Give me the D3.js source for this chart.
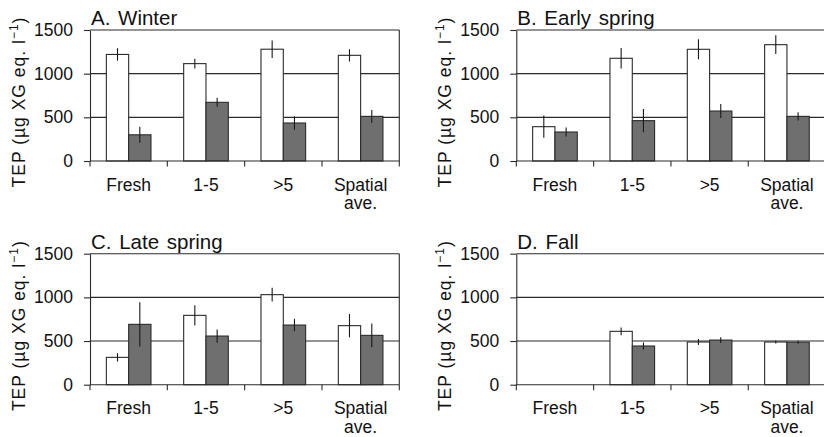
<!DOCTYPE html>
<html>
<head>
<meta charset="utf-8">
<script src="https://cdn.jsdelivr.net/npm/d3@7"></script>
<style>
  body { margin: 0; background: #fff; }
  svg { display: block; }
  text { font-family: "Liberation Sans", Arial, sans-serif; fill: #111; }
</style>
</head>
<body>
<svg id="chart" width="824" height="437"></svg>
<script>
// Sampling groups along the x axis
const categories = ["Fresh", "1-5", ">5", "Spatial ave."];
const panelTitles = ["A. Winter", "B. Early spring", "C. Late spring", "D. Fall"];
const yTicks = [0, 500, 1000, 1500];

// TEP means (µg XG eq. l-1), open bars
const openWinter = [1220, 1115, 1280, 1210];
const openEarlySpring = [393, 1176, 1279, 1332];
const openLateSpring = [313, 794, 1031, 676];
const openFall = [null, 611, 489, 489];

// TEP means, filled bars
const filledWinter = [300, 672, 435, 511];
const filledEarlySpring = [332, 462, 572, 511];
const filledLateSpring = [691, 557, 683, 565];
const filledFall = [null, 443, 511, 487];

// Error bar half-lengths
const openWinterErr = [72, 57, 100, 71];
const openEarlySpringErr = [128, 118, 115, 107];
const openLateSpringErr = [48, 115, 78, 134];
const openFallErr = [null, 44, 34, 17];
const filledWinterErr = [92, 52, 76, 73];
const filledEarlySpringErr = [52, 134, 80, 46];
const filledLateSpringErr = [254, 76, 71, 135];
const filledFallErr = [null, 40, 33, 17];

const panels = [
  { title: panelTitles[0], open: openWinter, filled: filledWinter, openErr: openWinterErr, filledErr: filledWinterErr, left: 90, top: 30 },
  { title: panelTitles[1], open: openEarlySpring, filled: filledEarlySpring, openErr: openEarlySpringErr, filledErr: filledEarlySpringErr, left: 516.3, top: 30 },
  { title: panelTitles[2], open: openLateSpring, filled: filledLateSpring, openErr: openLateSpringErr, filledErr: filledLateSpringErr, left: 90, top: 253.7 },
  { title: panelTitles[3], open: openFall, filled: filledFall, openErr: openFallErr, filledErr: filledFallErr, left: 516.3, top: 253.7 }
];

const W = 309.3, H = 131;
const lineColor = "#2b2b2b";
const svg = d3.select("#chart");

const x0 = d3.scaleBand().domain(categories).range([0, W]).padding(0);
const x1 = d3.scaleBand().domain(["open", "filled"]).range([0, x0.bandwidth()])
  .paddingInner(0).paddingOuter(0.733);
const y = d3.scaleLinear().domain([0, 1500]).range([H, 0]);

panels.forEach(p => {
  const g = svg.append("g").attr("transform", `translate(${p.left},${p.top})`);

  // horizontal gridlines (including the top frame line)
  g.selectAll("line.grid").data(yTicks.filter(t => t > 0)).join("line")
    .attr("class", "grid")
    .attr("x1", 0).attr("x2", W)
    .attr("y1", d => y(d)).attr("y2", d => y(d))
    .attr("stroke", lineColor).attr("stroke-width", 1.1);

  // right frame line
  g.append("line").attr("x1", W).attr("x2", W).attr("y1", y(1500)).attr("y2", H)
    .attr("stroke", lineColor).attr("stroke-width", 1.1);

  // bars
  const rows = categories.map((c, i) => ({ c, i }));
  ["open", "filled"].forEach(key => {
    const vals = p[key], errs = p[key + "Err"];
    const data = rows.filter(r => vals[r.i] != null);
    g.selectAll(`rect.${key}`).data(data).join("rect")
      .attr("class", key)
      .attr("x", r => x0(r.c) + x1(key))
      .attr("width", x1.bandwidth())
      .attr("y", r => y(vals[r.i]))
      .attr("height", r => H - y(vals[r.i]))
      .attr("fill", key === "open" ? "#ffffff" : "#6f6f6f")
      .attr("stroke", lineColor).attr("stroke-width", 1.1);
    g.selectAll(`line.err-${key}`).data(data).join("line")
      .attr("class", `err-${key}`)
      .attr("x1", r => x0(r.c) + x1(key) + x1.bandwidth() / 2)
      .attr("x2", r => x0(r.c) + x1(key) + x1.bandwidth() / 2)
      .attr("y1", r => y(vals[r.i] + errs[r.i]))
      .attr("y2", r => y(vals[r.i] - errs[r.i]))
      .attr("stroke", "#1a1a1a").attr("stroke-width", 1.1);
  });

  // y axis
  const ya = g.append("g").call(
    d3.axisLeft(y).tickValues(yTicks).tickFormat(d3.format("d"))
      .tickSize(6).tickSizeOuter(0).tickPadding(11)
  );
  ya.select(".domain").attr("stroke", lineColor).attr("stroke-width", 1.1);
  ya.selectAll(".tick line").attr("stroke", lineColor).attr("stroke-width", 1.1);
  ya.selectAll(".tick text").attr("font-size", 17.5)
    .attr("font-family", "Liberation Sans, Arial, sans-serif").attr("fill", "#111");

  // x axis with ticks at the category boundaries
  g.append("line").attr("x1", 0).attr("x2", W).attr("y1", H).attr("y2", H)
    .attr("stroke", lineColor).attr("stroke-width", 1.1);
  const bounds = categories.map(c => x0(c)).concat([W]);
  g.selectAll("line.xtick").data(bounds).join("line")
    .attr("class", "xtick")
    .attr("x1", d => d).attr("x2", d => d)
    .attr("y1", H).attr("y2", H + 5.5)
    .attr("stroke", lineColor).attr("stroke-width", 1.1);

  // category labels (split onto lines)
  categories.forEach(c => {
    const t = g.append("text")
      .attr("text-anchor", "middle")
      .attr("font-size", 17.5)
      .attr("x", x0(c) + x0.bandwidth() / 2)
      .attr("y", H + 29.5);
    c.split(" ").forEach((part, k) => {
      t.append("tspan").attr("x", x0(c) + x0.bandwidth() / 2)
        .attr("dy", k === 0 ? 0 : 18.5).text(part);
    });
  });

  // panel title
  g.append("text").attr("x", 1).attr("y", -5.2)
    .attr("font-size", 20.5).style("word-spacing", "2px").text(p.title);

  // y axis title
  const yl = g.append("text")
    .attr("transform", `translate(-65,${72}) rotate(-90)`)
    .attr("text-anchor", "middle")
    .attr("font-size", 17.5)
    .style("letter-spacing", "1px");
  yl.append("tspan").text("TEP (µg XG eq. l");
  yl.append("tspan").attr("font-size", 12).attr("dy", -7).text("−1");
  yl.append("tspan").attr("dy", 7).text(")");
});
</script>
</body>
</html>
